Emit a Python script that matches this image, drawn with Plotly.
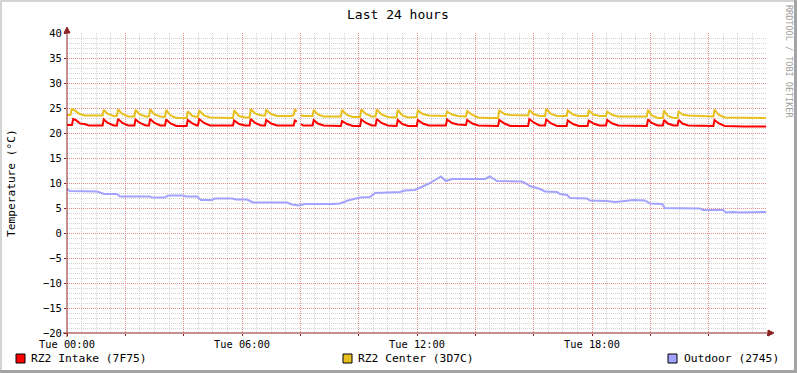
import plotly.graph_objects as go

# ---------------- data (hours since Tue 00:00, °C) ----------------
intake_t = [0.00, 0.17, 0.21, 0.30, 0.45, 0.60, 0.75, 1.22, 1.26, 1.40, 1.60, 1.71, 1.75, 1.90, 2.10,
            2.31, 2.35, 2.50, 2.70, 2.81, 2.85, 3.00, 3.20, 3.36, 3.40, 3.55, 3.75, 4.10, 4.14, 4.30,
            4.45, 4.49, 4.53, 4.70, 4.90, 5.69, 5.73, 5.90, 6.10, 6.26, 6.30, 6.45, 6.65, 6.79, 6.83,
            7.00, 7.20, 7.77, 7.81, 7.88, 7.95, 8.02, 8.10, 8.42, 8.46, 8.60, 8.80, 9.39, 9.43, 9.60,
            9.80, 10.05, 10.09, 10.25, 10.45, 10.58, 10.62, 10.78, 11.00, 11.30, 11.34, 11.50, 11.70,
            11.99, 12.03, 12.20, 12.40, 12.99, 13.03, 13.20, 13.40, 13.68, 13.72, 13.90, 14.10, 14.78,
            14.82, 15.00, 15.20, 15.81, 15.85, 16.00, 16.20, 16.39, 16.43, 16.60, 16.80, 17.13, 17.17,
            17.35, 17.55, 17.85, 17.89, 18.05, 18.25, 18.48, 18.52, 18.70, 18.90, 19.88, 19.92, 20.05,
            20.25, 20.43, 20.47, 20.60, 20.80, 20.93, 20.97, 21.10, 21.30, 22.16, 22.20, 22.35, 22.55,
            23.20, 23.97]
intake_v = [21.6, 21.6, 22.8, 22.6, 21.9, 21.8, 21.5, 21.5, 22.7, 22.0, 21.5, 21.5, 22.8, 22.0, 21.5,
            21.5, 22.7, 22.0, 21.5, 21.5, 22.8, 22.0, 21.5, 21.5, 22.7, 21.9, 21.4, 21.4, 22.6, 21.9,
            21.5, 21.5, 22.8, 22.0, 21.5, 21.5, 22.5, 21.8, 21.5, 21.5, 22.8, 22.0, 21.5, 21.5, 22.6,
            21.9, 21.5, 21.5, 22.5, 22.3, None, 21.8, 21.5, 21.5, 22.6, 21.9, 21.5, 21.4, 22.4, 21.8,
            21.4, 21.4, 22.7, 22.0, 21.5, 21.5, 22.8, 22.0, 21.5, 21.4, 22.6, 21.8, 21.4,
            21.4, 22.6, 21.9, 21.5, 21.5, 22.7, 22.0, 21.7, 21.6, 22.6, 21.9, 21.5, 21.4,
            22.6, 21.9, 21.4, 21.4, 22.8, 22.1, 21.5, 21.5, 22.7, 21.9, 21.4, 21.4, 22.5,
            21.8, 21.4, 21.4, 22.5, 21.9, 21.5, 21.5, 22.6, 21.9, 21.5, 21.4, 22.7, 22.0,
            21.5, 21.5, 22.6, 21.9, 21.5, 21.5, 22.6, 21.9, 21.5, 21.4, 22.6, 21.9, 21.4,
            21.3, 21.3]

center_t = [0.00, 0.12, 0.16, 0.25, 0.40, 0.60, 1.22, 1.26, 1.40, 1.60, 1.71, 1.75, 1.90, 2.10, 2.31,
            2.35, 2.50, 2.70, 2.81, 2.85, 3.00, 3.20, 3.36, 3.40, 3.55, 3.75, 4.10, 4.14, 4.30, 4.45,
            4.49, 4.53, 4.70, 4.90, 5.69, 5.73, 5.90, 6.10, 6.26, 6.30, 6.45, 6.65, 6.79, 6.83, 7.00,
            7.20, 7.70, 7.77, 7.81, 7.88, 7.95, 8.02, 8.10, 8.42, 8.46, 8.60, 8.80, 9.39, 9.43, 9.60,
            9.80, 10.05, 10.09, 10.25, 10.45, 10.58, 10.62, 10.78, 11.00, 11.30, 11.34, 11.50, 11.70,
            11.99, 12.03, 12.20, 12.40, 12.99, 13.03, 13.20, 13.40, 13.68, 13.72, 13.90, 14.10, 14.40,
            14.78, 14.82, 15.00, 15.20, 15.81, 15.85, 16.00, 16.20, 16.39, 16.43, 16.60, 16.80, 17.13,
            17.17, 17.35, 17.55, 17.85, 17.89, 18.05, 18.25, 18.48, 18.52, 18.70, 18.90, 19.88, 19.92,
            20.05, 20.25, 20.43, 20.47, 20.60, 20.80, 20.93, 20.97, 21.10, 21.30, 22.16, 22.20, 22.35,
            22.55, 23.20, 23.97]
center_v = [23.6, 23.6, 24.8, 24.6, 23.9, 23.5, 23.5, 24.6, 23.8, 23.4, 23.4, 24.7, 23.8, 23.3, 23.3,
            24.6, 23.7, 23.3, 23.3, 24.7, 23.7, 23.3, 23.2, 24.6, 23.5, 23.0, 23.0, 24.3, 23.4, 23.2,
            23.2, 24.5, 23.5, 23.1, 23.0, 24.5, 23.4, 23.1, 23.1, 24.8, 23.9, 23.5, 23.5, 24.6, 23.8,
            23.4, 23.4, 23.6, 24.6, 24.4, None, 23.6, 23.4, 23.4, 24.6, 23.7, 23.3, 23.3, 24.6, 23.6,
            23.2, 23.2, 24.7, 23.8, 23.3, 23.3, 24.7, 23.7, 23.2, 23.1, 24.6, 23.5, 23.1,
            23.2, 24.5, 23.8, 23.5, 23.4, 24.3, 23.7, 23.4, 23.3, 24.4, 23.6, 23.1, 23.0,
            23.0, 24.5, 23.8, 23.6, 23.5, 24.6, 23.8, 23.4, 23.4, 24.8, 23.8, 23.4, 23.4,
            24.5, 23.7, 23.4, 23.4, 24.5, 23.7, 23.4, 23.4, 24.3, 23.6, 23.3, 23.3, 24.6,
            23.5, 23.0, 23.0, 24.5, 23.4, 23.0, 23.0, 24.3, 23.7, 23.5, 23.3, 24.7, 23.6,
            23.1, 23.0, 23.0]

outdoor_t = [0.00, 0.10, 1.03, 1.13, 1.27, 1.71, 1.82, 2.85, 2.91, 3.36, 3.46, 3.98, 4.08, 4.46, 4.59,
             4.97, 5.07, 5.66, 5.79, 6.17, 6.38, 7.54, 7.71, 7.95, 8.16, 9.12, 9.36, 9.63, 10.05, 10.39,
             10.56, 11.42, 11.59, 11.93, 12.10, 12.38, 12.62, 12.82, 12.99, 13.20, 14.33, 14.50, 14.74,
             15.60, 15.77, 15.87, 16.22, 16.39, 16.80, 16.90, 17.14, 17.25, 17.83, 17.93, 18.51, 18.79,
             19.13, 19.41, 19.82, 19.99, 20.40, 20.50, 21.70, 21.81, 22.49, 22.59, 22.83, 23.07, 23.97]
outdoor_v = [8.8, 8.4, 8.3, 8.1, 7.8, 7.8, 7.3, 7.3, 7.1, 7.1, 7.5, 7.5, 7.3, 7.3, 6.6,
             6.6, 6.9, 6.9, 6.7, 6.7, 6.1, 6.1, 5.7, 5.5, 5.8, 5.8, 5.9, 6.5, 7.1, 7.2,
             8.0, 8.2, 8.5, 8.6, 9.0, 9.8, 10.6, 11.3, 10.4, 10.8, 10.8, 11.3, 10.4,
             10.3, 9.8, 9.4, 8.8, 8.3, 8.2, 7.8, 7.6, 7.0, 6.9, 6.5, 6.4, 6.2,
             6.4, 6.6, 6.5, 5.9, 5.8, 5.0, 4.9, 4.6, 4.6, 4.1, 4.2, 4.1, 4.2]

series_names = ["RZ2 Intake (7F75)", "RZ2 Center (3D7C)", "Outdoor (2745)"]
series_colors = ["#FF0000", "#E8C01E", "#A3A3FF"]

x_tick_vals = [0, 2, 4, 6, 8, 10, 12, 14, 16, 18, 20, 22, 24]
x_tick_text = ["Tue 00:00", "", "", "Tue 06:00", "", "", "Tue 12:00", "", "", "Tue 18:00", "", "", ""]
y_tick_vals = [-20, -15, -10, -5, 0, 5, 10, 15, 20, 25, 30, 35, 40]

# ---------------- layout helpers (pixel -> paper) ----------------
W, H = 797, 373
L, R, T, B = 67, 30, 33, 40
PW, PH = W - L - R, H - T - B


def px(x):
    return (x - L) / PW


def py(y):
    return (H - B - y) / PH


MONO = "DejaVu Sans Mono"
AX = "#8B2323"

fig = go.Figure()
for t, v, c in zip([intake_t, center_t, outdoor_t], [intake_v, center_v, outdoor_v], series_colors):
    fig.add_trace(go.Scatter(x=t, y=v, mode="lines", line=dict(color=c, width=2),
                             connectgaps=False, showlegend=False, hoverinfo="skip"))

shapes = []
# frame borders (3D look)
shapes.append(dict(type="line", xref="paper", yref="paper", x0=px(0), x1=px(W), y0=py(1), y1=py(1),
                   line=dict(color="#d4d4d4", width=2)))
shapes.append(dict(type="line", xref="paper", yref="paper", x0=px(1), x1=px(1), y0=py(0), y1=py(H),
                   line=dict(color="#d4d4d4", width=2)))
shapes.append(dict(type="line", xref="paper", yref="paper", x0=px(795.5), x1=px(795.5), y0=py(0), y1=py(H),
                   line=dict(color="#a4a4a4", width=3)))
shapes.append(dict(type="line", xref="paper", yref="paper", x0=px(0), x1=px(W), y0=py(371.5), y1=py(371.5),
                   line=dict(color="#a4a4a4", width=3)))
# axes with arrows
shapes.append(dict(type="line", xref="paper", yref="paper", x0=px(63), x1=px(770), y0=py(333), y1=py(333),
                   line=dict(color=AX, width=1)))
shapes.append(dict(type="path", xref="paper", yref="paper",
                   path=f"M {px(768)} {py(330)} L {px(774)} {py(333)} L {px(768)} {py(336)} Z",
                   fillcolor=AX, line=dict(color=AX, width=1)))
shapes.append(dict(type="line", xref="paper", yref="paper", x0=px(67), x1=px(67), y0=py(337), y1=py(30),
                   line=dict(color=AX, width=1)))
shapes.append(dict(type="path", xref="paper", yref="paper",
                   path=f"M {px(64)} {py(33)} L {px(67)} {py(27)} L {px(70)} {py(33)} Z",
                   fillcolor=AX, line=dict(color=AX, width=1)))

annotations = [
    dict(text="Last 24 hours", xref="paper", yref="paper", x=px(398), y=py(14), showarrow=False,
         font=dict(family=MONO, size=13, color="black"), xanchor="center", yanchor="middle"),
    dict(text="Temperature (°C)", xref="paper", yref="paper", x=px(11), y=py(183), showarrow=False,
         textangle=-90, font=dict(family=MONO, size=11.2, color="black"), xanchor="center", yanchor="middle"),
    dict(text="RRDTOOL / TOBI OETIKER", xref="paper", yref="paper", x=px(789), y=py(61), showarrow=False,
         textangle=90, font=dict(family=MONO, size=8.5, color="#a0a0a0"), xanchor="center", yanchor="middle"),
]

legend_sq_x = [16, 343, 668]
legend_tx_x = [29, 356, 682]
for name, col, sx, tx in zip(series_names, series_colors, legend_sq_x, legend_tx_x):
    shapes.append(dict(type="rect", xref="paper", yref="paper", x0=px(sx), x1=px(sx + 9),
                       y0=py(363), y1=py(354), fillcolor=col, line=dict(color="black", width=1)))
    annotations.append(dict(text=name, xref="paper", yref="paper", x=px(tx), y=py(358.5), showarrow=False,
                            font=dict(family=MONO, size=11.3, color="black"), xanchor="left", yanchor="middle"))

fig.update_layout(
    width=W, height=H,
    margin=dict(l=L, r=R, t=T, b=B, pad=0),
    paper_bgcolor="white", plot_bgcolor="white",
    shapes=shapes, annotations=annotations,
    xaxis=dict(range=[0, 24], tickmode="array", tickvals=x_tick_vals, ticktext=x_tick_text,
               showgrid=True, gridcolor="#e38d8d", griddash="1px,1px", gridwidth=1,
               minor=dict(dtick=0.5, tick0=0, showgrid=True, gridcolor="#d2d2d2", griddash="1px,1px",
                          gridwidth=1, ticks=""),
               ticks="outside", ticklen=2, tickcolor=AX, showline=False, zeroline=False,
               tickfont=dict(family=MONO, size=10.3, color="black"), fixedrange=True),
    yaxis=dict(range=[-20, 40], tickmode="array", tickvals=y_tick_vals,
               showgrid=True, gridcolor="#e38d8d", griddash="1px,1px", gridwidth=1,
               minor=dict(dtick=1, tick0=0, showgrid=True, gridcolor="#d2d2d2", griddash="1px,1px",
                          gridwidth=1, ticks=""),
               ticks="outside", ticklen=2, tickcolor=AX, showline=False, zeroline=False,
               tickfont=dict(family=MONO, size=10.5, color="black"), fixedrange=True),
)

fig.write_html("out.html", config={"displayModeBar": False},
               post_script="document.body.style.margin='0';document.body.style.overflow='hidden';")
